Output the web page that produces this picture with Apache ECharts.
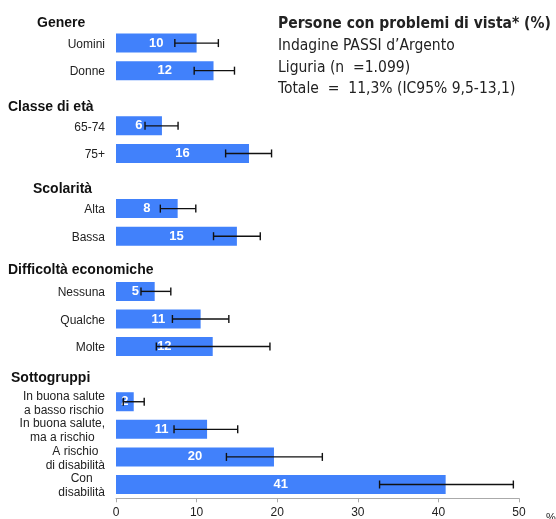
<!DOCTYPE html>
<html>
<head>
<meta charset="utf-8">
<script src="https://cdn.jsdelivr.net/npm/echarts@6/dist/echarts.min.js"></script>
<style>
html,body{margin:0;padding:0;background:#fff;}
#chart{width:556px;height:519px;}
</style>
</head>
<body>
<div id="chart"></div>
<script>
// ---- Data ----
const groupNames = ['Genere', 'Classe di età', 'Scolarità', 'Difficoltà economiche', 'Sottogruppi'];
const groupSizes = [2, 2, 2, 3, 4];
const categories = ['Uomini', 'Donne', '65-74', '75+', 'Alta', 'Bassa', 'Nessuna', 'Qualche', 'Molte',
  'In buona salute\na basso rischio', 'In buona salute,\nma a rischio', 'A rischio\ndi disabilità', 'Con\ndisabilità'];
const values = [10.0, 12.1, 5.7, 16.5, 7.65, 15.0, 4.8, 10.5, 12.0, 2.2, 11.3, 19.6, 40.9];
const valueLabels = [10, 12, 6, 16, 8, 15, 5, 11, 12, 2, 11, 20, 41];
const ciLow = [7.3, 9.7, 3.6, 13.6, 5.5, 12.1, 3.1, 7.0, 5.0, 0.9, 7.2, 13.7, 32.7];
const ciHigh = [12.7, 14.7, 7.7, 19.3, 9.9, 17.9, 6.8, 14.0, 19.1, 3.5, 15.1, 25.6, 49.3];
const xTicks = [0, 10, 20, 30, 40, 50];
const titleText = 'Persone con problemi di vista* (%)';
const subLines = ['Indagine PASSI d\u2019Argento', 'Liguria (n  =1.099)', 'Totale  =  11,3% (IC95% 9,5-13,1)'];

// ---- Layout (not data) ----
const headerX = [37, 8, 33, 8, 11];
const headerDy = [10, 11, 10, 8, 6];
const FONT = "'Liberation Sans', Arial, sans-serif";
const TFONT = "'DejaVu Sans Condensed', 'DejaVu Sans', sans-serif";

// Build slots: each group = header slot + item slots
const slots = [];
const headerSlots = [];
const barData = [];
const labelData = [];
const errData = [];
let k = 0;
groupNames.forEach((g, gi) => {
  headerSlots.push(slots.length);
  slots.push('__h' + gi);
  barData.push('-');
  labelData.push(null);
  for (let j = 0; j < groupSizes[gi]; j++) {
    const slot = slots.length;
    slots.push(categories[k]);
    barData.push(values[k]);
    labelData.push(valueLabels[k]);
    errData.push([slot, ciLow[k], ciHigh[k]]);
    k++;
  }
});

const chart = echarts.init(document.getElementById('chart'), null, {renderer: 'canvas'});
const option = {
  animation: false,
  backgroundColor: '#fff',
  textStyle: {fontFamily: FONT},
  title: {
    left: 278, top: 14.5,
    text: titleText,
    textStyle: {fontFamily: TFONT, fontSize: 15.5, fontWeight: 'bold', color: '#222', lineHeight: 18},
    subtext: subLines.join('\n'),
    subtextStyle: {fontFamily: TFONT, fontSize: 15.5, color: '#222', lineHeight: 21.5},
    itemGap: 3,
    padding: 0
  },
  grid: {left: 116, right: 37, top: 1.7, bottom: 20.7, containLabel: false, outerBoundsMode: 'none'},
  xAxis: {
    type: 'value', min: 0, max: 50, interval: 10,
    axisLine: {show: true, lineStyle: {color: '#aaa', width: 1}},
    axisTick: {show: true, length: 4, lineStyle: {color: '#aaa'}},
    splitLine: {show: false},
    axisLabel: {color: '#222', fontSize: 12, fontFamily: FONT, margin: 8,
      formatter: v => xTicks.includes(v) ? String(v) : ''},
    name: '%', nameLocation: 'end', nameGap: 27,
    nameTextStyle: {color: '#222', fontSize: 11, fontFamily: FONT, verticalAlign: 'top', padding: [14, 0, 0, 0]}
  },
  yAxis: {
    type: 'category', data: slots, inverse: true,
    axisLine: {show: false}, axisTick: {show: false}, splitLine: {show: false},
    axisLabel: {
      interval: 0, margin: 11, align: 'right', color: '#222', fontSize: 12, fontFamily: FONT,
      padding: [3, 0, 0, 0],
      formatter: v => {
        if (v.indexOf('__h') === 0) return '';
        if (v.indexOf('\n') >= 0) return v.split('\n').map(s => '{c|' + s + '}').join('\n');
        return v;
      },
      rich: {c: {align: 'center', fontSize: 12, lineHeight: 14, color: '#222', fontFamily: FONT}}
    }
  },
  series: [
    {
      type: 'bar', data: barData, barWidth: 19,
      itemStyle: {color: '#4181fb'},
      label: {
        show: true, position: 'inside', color: '#fff', fontWeight: 'bold', fontSize: 13, fontFamily: FONT,
        formatter: p => labelData[p.dataIndex] == null ? '' : String(labelData[p.dataIndex])
      }
    },
    {
      type: 'custom', data: errData, encode: {x: [1, 2], y: 0}, z: 5,
      renderItem: (params, api) => {
        const slot = api.value(0);
        const a = api.coord([api.value(1), slot]);
        const b = api.coord([api.value(2), slot]);
        const h = 4;
        const st = {stroke: '#111', lineWidth: 1.4};
        return {
          type: 'group',
          children: [
            {type: 'line', shape: {x1: a[0], y1: a[1], x2: b[0], y2: b[1]}, style: st},
            {type: 'line', shape: {x1: a[0], y1: a[1] - h, x2: a[0], y2: a[1] + h}, style: st},
            {type: 'line', shape: {x1: b[0], y1: b[1] - h, x2: b[0], y2: b[1] + h}, style: st}
          ]
        };
      }
    }
  ]
};
chart.setOption(option);

// Group headers positioned at their slots
const graphics = groupNames.map((g, gi) => {
  const y = chart.convertToPixel({yAxisIndex: 0}, slots[headerSlots[gi]]);
  return {
    type: 'text', left: headerX[gi], top: y + headerDy[gi] - 9,
    style: {text: g, font: "bold 14px " + FONT, fill: '#111'}
  };
});
chart.setOption({graphic: graphics});
</script>
</body>
</html>
